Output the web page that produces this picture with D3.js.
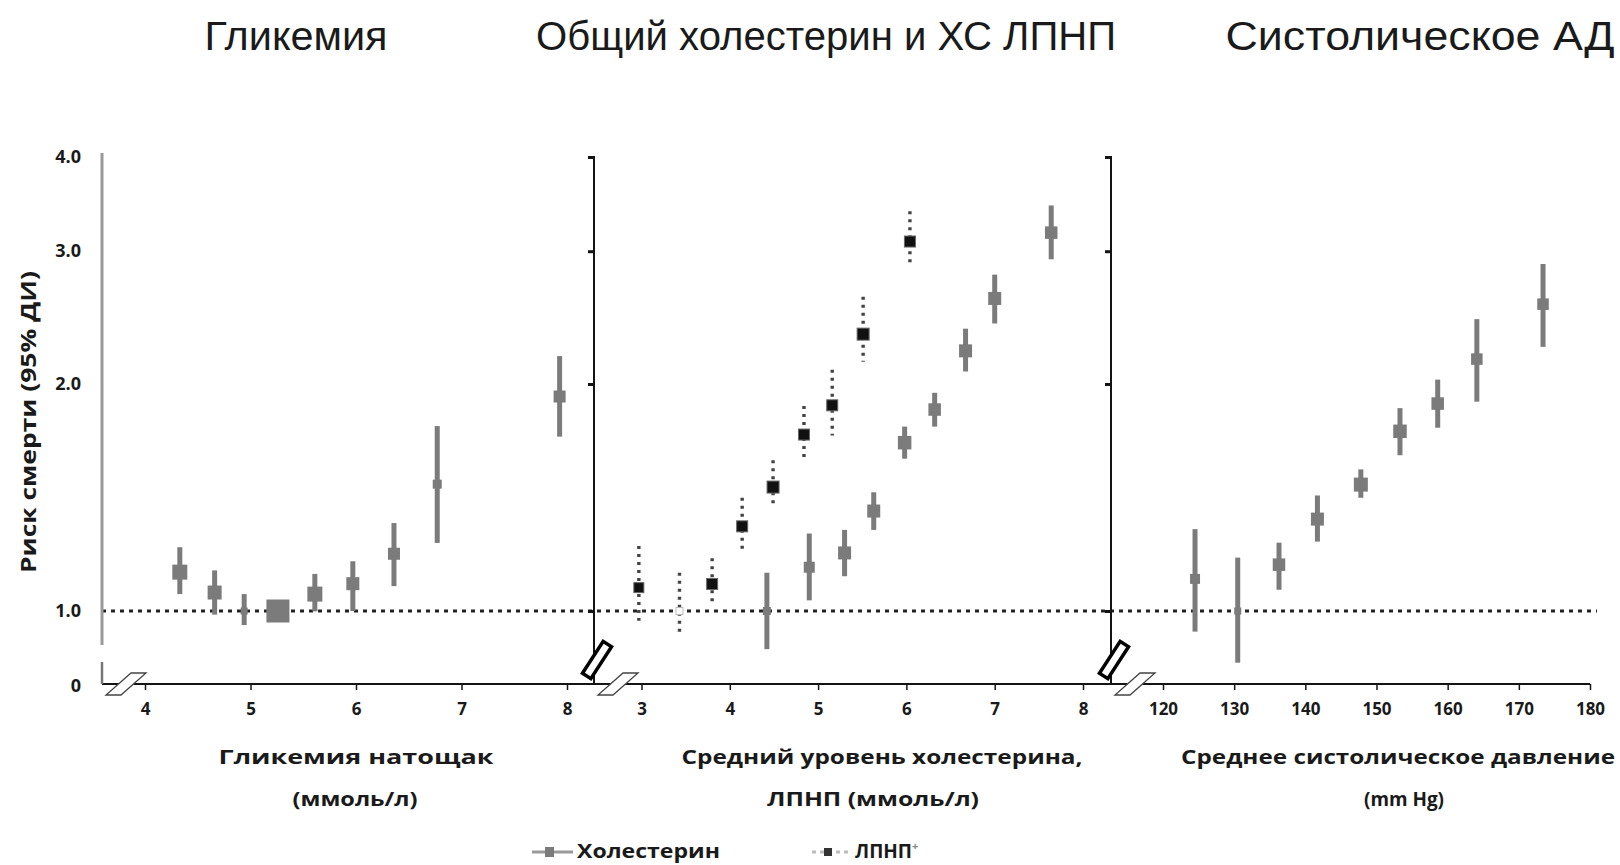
<!DOCTYPE html>
<html>
<head>
<meta charset="utf-8">
<script src="https://cdn.jsdelivr.net/npm/d3@7"></script>
<style>
  body { margin: 0; background: #fff; }
  svg text { fill: #1a1a1a; }
</style>
</head>
<body>
<svg id="chart" width="1620" height="865"></svg>
<script>
// ---------- Data ----------
// Fasting glucose (mmol/L): hazard ratio and 95% CI
const gluX  = [4.33, 4.66, 4.94, 5.26, 5.61, 5.97, 6.36, 6.77, 7.93];
const gluHR = [1.126, 1.058, 1.0, 1.0, 1.053, 1.087, 1.191, 1.473, 1.925];
const gluLo = [1.053, 0.989, 0.958, 1.0, 0.999, 1.0, 1.079, 1.231, 1.703];
const gluHi = [1.215, 1.132, 1.053, 1.0, 1.12, 1.164, 1.308, 1.759, 2.178];

// Total cholesterol (mmol/L)
const cholX  = [4.42, 4.90, 5.30, 5.63, 5.98, 6.32, 6.67, 7.00, 7.64];
const cholHR = [1.0, 1.143, 1.194, 1.357, 1.672, 1.85, 2.213, 2.597, 3.175];
const cholLo = [0.89, 1.033, 1.112, 1.281, 1.592, 1.756, 2.078, 2.406, 2.927];
const cholHi = [1.124, 1.267, 1.281, 1.437, 1.756, 1.947, 2.368, 2.793, 3.45];

// LDL cholesterol (mmol/L)
const ldlX  = [2.97, 3.43, 3.80, 4.14, 4.49, 4.84, 5.16, 5.51, 6.04];
const ldlHR = [1.074, 1.0, 1.086, 1.295, 1.46, 1.714, 1.874, 2.329, 3.09];
const ldlLo = [0.971, 0.925, 1.027, 1.20, 1.379, 1.592, 1.709, 2.14, 2.86];
const ldlHi = [1.22, 1.124, 1.175, 1.413, 1.584, 1.87, 2.089, 2.61, 3.39];

// Systolic blood pressure (mm Hg)
const sbpX  = [124.5, 130.5, 136.3, 141.7, 147.8, 153.3, 158.6, 164.1, 173.4];
const sbpHR = [1.103, 1.0, 1.152, 1.324, 1.471, 1.731, 1.884, 2.158, 2.552];
const sbpLo = [0.939, 0.854, 1.067, 1.236, 1.413, 1.609, 1.75, 1.895, 2.24];
const sbpHi = [1.284, 1.177, 1.232, 1.423, 1.541, 1.858, 2.027, 2.438, 2.885];

// Axis ticks and labels
const yTicks = [1, 2, 3, 4];
const yTickLabels = ["1.0", "2.0", "3.0", "4.0"];
const gluTicks = [4, 5, 6, 7, 8];
const cholTicks = [3, 4, 5, 6, 7, 8];
const sbpTicks = [120, 130, 140, 150, 160, 170, 180];

const panelTitles = ["Гликемия", "Общий холестерин и ХС ЛПНП", "Систолическое АД"];
const yTitle = "Риск смерти (95% ДИ)";
const legendLabels = ["Холестерин", "ЛПНП"];

// ---------- Styling ----------
const GRAY = "#7b7b7b";
const DARK = "#141414";
const boldFont = "'Open Sans', 'DejaVu Sans', sans-serif";
const titleFont = "'Liberation Sans Narrow', 'Liberation Sans', Arial, sans-serif";
// square marker side (px) for each point, proportional to study weight
const gluSide  = [15, 14, 7, 23, 15, 13, 12, 9, 12];
const cholSide = [8, 11, 13, 13, 13.5, 12.5, 13, 13, 12.5];
const ldlSide  = [10, 7, 11, 11, 12, 11, 11, 12, 11];
const sbpSide  = [10, 7, 12.5, 13, 14, 13.5, 12.5, 11.5, 11.5];

const svg = d3.select("#chart");

// ---------- Scales ----------
const baseY = 684;            // x-axis line
const y = d3.scaleLog().domain([1, 4]).range([611, 157]);

const xGlu = d3.scaleLinear().domain([4, 8]).range([145, 567]);
const xChol = d3.scaleLinear().domain([3, 8]).range([641.5, 1083]);
const xSbp = d3.scaleLinear().domain([120, 180]).range([1163, 1590]);

const ax1 = 102, ax2 = 594, ax3 = 1111;

// ---------- Titles ----------
const titles = [
  { t: panelTitles[0], cx: 296, w: 183 },
  { t: panelTitles[1], cx: 826, w: 580 },
  { t: panelTitles[2], cx: 1420, w: 389 }
];
svg.selectAll("text.ptitle").data(titles).join("text")
  .attr("class", "ptitle")
  .attr("x", d => d.cx).attr("y", 50)
  .attr("text-anchor", "middle")
  .attr("font-family", titleFont)
  .attr("font-size", 40)
  .attr("textLength", d => d.w)
  .attr("lengthAdjust", "spacingAndGlyphs")
  .text(d => d.t);

// ---------- Reference line HR = 1 ----------
svg.append("line")
  .attr("x1", ax1).attr("x2", 1597)
  .attr("y1", y(1)).attr("y2", y(1))
  .attr("stroke", "#222").attr("stroke-width", 3)
  .attr("stroke-dasharray", "4,5");

// ---------- Continuous x-axis baseline ----------
svg.append("line")
  .attr("x1", ax1).attr("x2", 1590)
  .attr("y1", baseY).attr("y2", baseY)
  .attr("stroke", DARK).attr("stroke-width", 2);

// ---------- Panel 1 y axis (gray, labels only) ----------
svg.append("line")
  .attr("x1", ax1).attr("x2", ax1).attr("y1", 153).attr("y2", 645)
  .attr("stroke", "#9a9a9a").attr("stroke-width", 3);
svg.append("line")
  .attr("x1", ax1).attr("x2", ax1).attr("y1", 662).attr("y2", baseY)
  .attr("stroke", "#777").attr("stroke-width", 2.5);

const yLabelAxis = svg.append("g")
  .attr("transform", `translate(${ax1},0)`)
  .call(d3.axisLeft(y).tickValues(yTicks).tickSize(0).tickPadding(21)
    .tickFormat((d, i) => yTickLabels[i]));
yLabelAxis.select(".domain").remove();
yLabelAxis.selectAll("text")
  .attr("font-family", boldFont).attr("font-weight", 700)
  .attr("font-size", 18).attr("fill", "#1a1a1a");
svg.append("text")
  .attr("x", 81).attr("y", baseY + 2).attr("dy", "0.35em")
  .attr("text-anchor", "end")
  .attr("font-family", boldFont).attr("font-weight", 700).attr("font-size", 18)
  .text("0");

// ---------- Panels 2 & 3 y axes (black with ticks) ----------
[ax2, ax3].forEach(ax => {
  const g = svg.append("g").attr("transform", `translate(${ax},0)`)
    .call(d3.axisLeft(y).tickValues(yTicks).tickSize(6).tickFormat(""));
  g.select(".domain").remove();
  g.selectAll(".tick line").attr("stroke", DARK).attr("stroke-width", 3);
  svg.append("line")
    .attr("x1", ax).attr("x2", ax).attr("y1", 156).attr("y2", baseY)
    .attr("stroke", DARK).attr("stroke-width", 2);
});

// ---------- x axes ----------
function xAxis(scale, ticks) {
  const g = svg.append("g").attr("transform", `translate(0,${baseY})`)
    .call(d3.axisBottom(scale).tickValues(ticks).tickSize(6).tickPadding(13)
      .tickFormat(d3.format("d")));
  g.select(".domain").remove();
  g.selectAll(".tick line").attr("stroke", DARK).attr("stroke-width", 1.5);
  g.selectAll("text")
    .attr("font-family", boldFont).attr("font-weight", 700)
    .attr("font-size", 17).attr("fill", "#1a1a1a");
}
xAxis(xGlu, gluTicks);
xAxis(xChol, cholTicks);
xAxis(xSbp, sbpTicks);

// ---------- Axis-break symbols ----------
// white slanted band across the x axis
function xBreak(ax) {
  const pts = [[ax + 4, baseY + 11], [ax + 19, baseY + 11], [ax + 44, baseY - 11], [ax + 29, baseY - 11]];
  svg.append("polygon")
    .attr("points", pts.map(p => p.join(",")).join(" "))
    .attr("fill", "#fff").attr("stroke", "#444").attr("stroke-width", 1.3);
}
// heavy outlined band across the y axis
function yBreak(ax) {
  svg.append("rect")
    .attr("x", -5).attr("y", -19).attr("width", 10).attr("height", 38)
    .attr("transform", `translate(${ax + 3},660) rotate(33)`)
    .attr("fill", "#fff").attr("stroke", "#000").attr("stroke-width", 3.5);
}
xBreak(ax1);
yBreak(ax2); xBreak(ax2);
yBreak(ax3); xBreak(ax3);

// ---------- Point estimates with CIs ----------
function solidSeries(xs, hr, lo, hi, side, xScale, color) {
  const g = svg.append("g");
  const rows = xs.map((x, i) => ({ x, hr: hr[i], lo: lo[i], hi: hi[i], s: side[i] }));
  g.selectAll("line").data(rows.filter(d => d.hi > d.lo)).join("line")
    .attr("x1", d => xScale(d.x)).attr("x2", d => xScale(d.x))
    .attr("y1", d => y(d.hi)).attr("y2", d => y(d.lo))
    .attr("stroke", color).attr("stroke-width", 5);
  g.selectAll("rect").data(rows).join("rect")
    .attr("x", d => xScale(d.x) - d.s / 2)
    .attr("y", d => y(d.hr) - d.s / 2)
    .attr("width", d => d.s).attr("height", d => d.s)
    .attr("fill", color);
}

solidSeries(gluX, gluHR, gluLo, gluHi, gluSide, xGlu, GRAY);
solidSeries(cholX, cholHR, cholLo, cholHi, cholSide, xChol, GRAY);
solidSeries(sbpX, sbpHR, sbpLo, sbpHi, sbpSide, xSbp, GRAY);

// LDL: dotted CIs with black squares
(function () {
  const g = svg.append("g");
  const rows = ldlX.map((x, i) => ({ x, hr: ldlHR[i], lo: ldlLo[i], hi: ldlHi[i], s: ldlSide[i], ref: ldlHR[i] === 1 }));
  g.selectAll("line").data(rows).join("line")
    .attr("x1", d => xChol(d.x)).attr("x2", d => xChol(d.x))
    .attr("y1", d => y(d.hi)).attr("y2", d => y(d.lo))
    .attr("stroke", "#444").attr("stroke-width", 3.4)
    .attr("stroke-dasharray", "3,5");
  g.selectAll("rect").data(rows).join("rect")
    .attr("x", d => xChol(d.x) - d.s / 2)
    .attr("y", d => y(d.hr) - d.s / 2)
    .attr("width", d => d.s).attr("height", d => d.s)
    .attr("fill", d => d.ref ? "#fff" : "#111")
    .attr("stroke", d => d.ref ? "#bbb" : "#666")
    .attr("stroke-width", 1);
})();

// ---------- Axis titles ----------
const axisTitles = [
  { t: "Гликемия натощак", cx: 356, y: 764, w: 275 },
  { t: "(ммоль/л)", cx: 355, y: 806, w: 125 },
  { t: "Средний уровень холестерина,", cx: 882, y: 764, w: 401 },
  { t: "ЛПНП (ммоль/л)", cx: 873, y: 806, w: 212 },
  { t: "Среднее систолическое давление", cx: 1398, y: 764, w: 434 },
  { t: "(mm Hg)", cx: 1404, y: 806, w: 80 }
];
svg.selectAll("text.atitle").data(axisTitles).join("text")
  .attr("class", "atitle")
  .attr("x", d => d.cx).attr("y", d => d.y)
  .attr("text-anchor", "middle")
  .attr("font-family", boldFont).attr("font-weight", 700).attr("font-size", 20)
  .attr("textLength", d => d.w).attr("lengthAdjust", "spacingAndGlyphs")
  .text(d => d.t);

svg.append("text")
  .attr("transform", "translate(36,422) rotate(-90)")
  .attr("text-anchor", "middle")
  .attr("font-family", boldFont).attr("font-weight", 700).attr("font-size", 21)
  .attr("textLength", 302).attr("lengthAdjust", "spacingAndGlyphs")
  .text(yTitle);

// ---------- Legend ----------
const lg = svg.append("g");
lg.append("line").attr("x1", 532).attr("x2", 573).attr("y1", 852).attr("y2", 852)
  .attr("stroke", "#999").attr("stroke-width", 3);
lg.append("rect").attr("x", 545).attr("y", 847).attr("width", 9).attr("height", 10)
  .attr("fill", GRAY);
lg.append("text").attr("x", 577).attr("y", 858)
  .attr("font-family", boldFont).attr("font-weight", 700).attr("font-size", 19)
  .attr("textLength", 143).attr("lengthAdjust", "spacingAndGlyphs")
  .text(legendLabels[0]);

lg.append("line").attr("x1", 812).attr("x2", 850).attr("y1", 852).attr("y2", 852)
  .attr("stroke", "#bbb").attr("stroke-width", 3).attr("stroke-dasharray", "4,4");
lg.append("rect").attr("x", 824).attr("y", 848).attr("width", 8).attr("height", 8)
  .attr("fill", "#333");
const ldlText = lg.append("text").attr("x", 855).attr("y", 858)
  .attr("font-family", boldFont).attr("font-weight", 700).attr("font-size", 19);
ldlText.append("tspan").text(legendLabels[1]);
ldlText.append("tspan").attr("dy", -8).attr("font-size", 11).attr("fill", "#888").text("+");
</script>
</body>
</html>
